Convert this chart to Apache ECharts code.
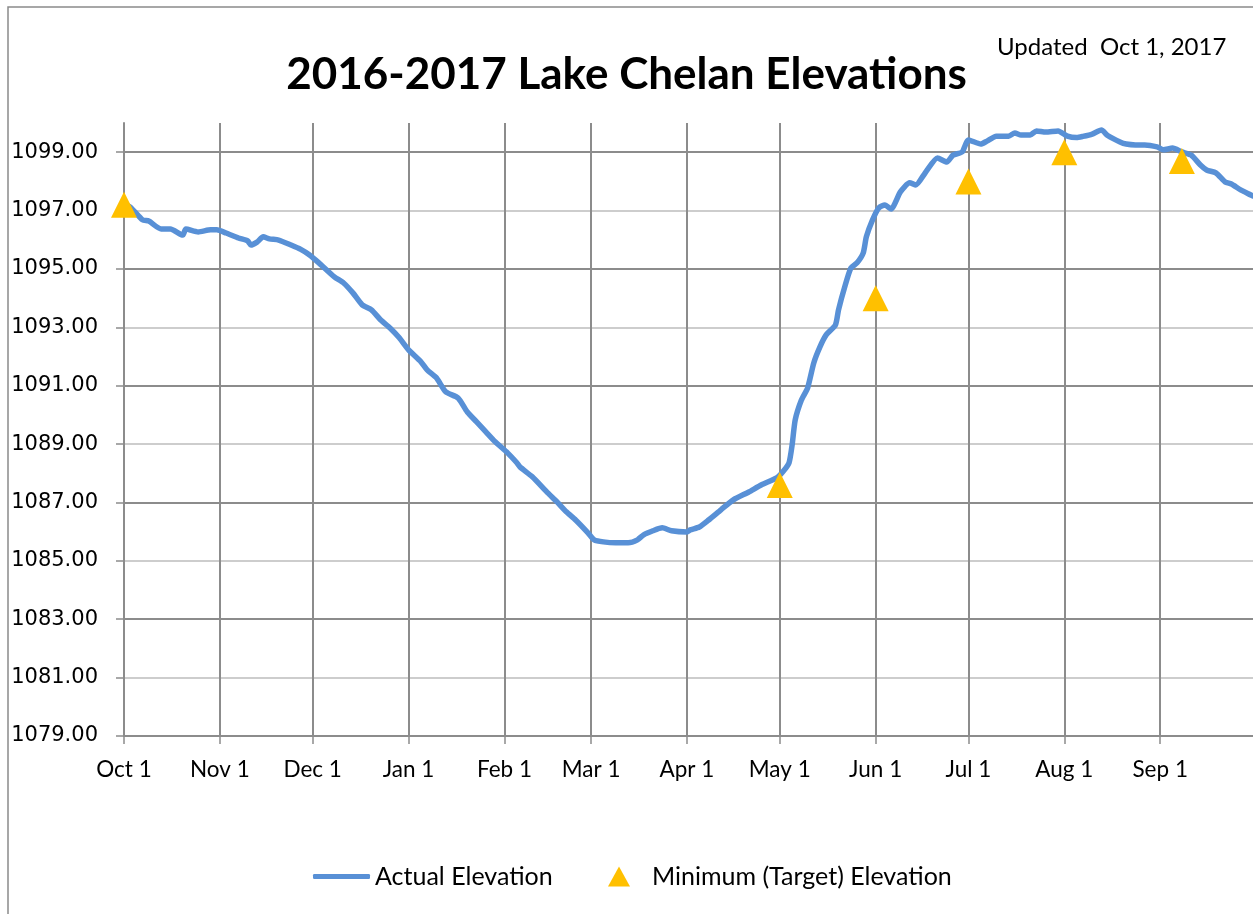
<!DOCTYPE html>
<html>
<head>
<meta charset="utf-8">
<script src="https://cdn.jsdelivr.net/npm/echarts@6/dist/echarts.min.js"></script>
<style>html,body{margin:0;padding:0;background:#fff}#chart{width:1253px;height:914px}</style>
</head>
<body>
<div id="chart"></div>
<script>
// Day offsets from Oct 1, 2016 and read-off lake elevations (ft)
const days = [0,2,6,8,12,15,19,20,24,28,30,33,37,40,41,43,45,47,50,54,57,60,63,68,71,74,77,80,83,86,89,92,96,98,101,104,108,111,114,117,120,124,127,128,132,137,140,143,146,150,152,155,159,163,166,168,171,174,177,182,183,186,189,193,197,202,206,211,213,215,216,217,219,221,223,225,227,230,231,233,235,237,239,240,242,244,246,248,251,254,256,259,263,266,268,271,273,277,279,282,286,288,290,293,295,298,302,305,308,310,313,316,318,322,324,327,330,334,336,339,342,345,348,350,353,356,358,361,365];
const elev = [1097.20,1097.12,1096.68,1096.64,1096.37,1096.37,1096.16,1096.37,1096.27,1096.34,1096.34,1096.23,1096.06,1095.96,1095.82,1095.92,1096.10,1096.03,1095.99,1095.82,1095.68,1095.48,1095.21,1094.73,1094.52,1094.18,1093.77,1093.60,1093.25,1092.98,1092.64,1092.23,1091.82,1091.54,1091.27,1090.79,1090.58,1090.10,1089.76,1089.42,1089.08,1088.70,1088.36,1088.22,1087.88,1087.33,1087.02,1086.68,1086.40,1085.96,1085.72,1085.65,1085.62,1085.62,1085.72,1085.89,1086.03,1086.13,1086.03,1085.99,1086.06,1086.16,1086.40,1086.75,1087.09,1087.36,1087.60,1087.84,1088.05,1088.36,1088.97,1089.83,1090.51,1090.92,1091.78,1092.33,1092.74,1093.08,1093.60,1094.38,1095.03,1095.21,1095.55,1096.10,1096.68,1097.09,1097.19,1097.05,1097.64,1097.95,1097.88,1098.29,1098.80,1098.66,1098.90,1099.01,1099.42,1099.28,1099.38,1099.55,1099.55,1099.66,1099.59,1099.59,1099.73,1099.69,1099.73,1099.55,1099.50,1099.54,1099.62,1099.76,1099.57,1099.35,1099.28,1099.25,1099.25,1099.18,1099.08,1099.14,1099.01,1098.90,1098.56,1098.39,1098.29,1097.98,1097.91,1097.71,1097.50];
// Minimum (target) elevations
const targetDays = [0,212,243,273,304,342];
const targetVals = [1097.2,1087.6,1094.0,1098.0,1099.0,1098.7];
// Axis labels
const monthStarts = [0,31,61,92,123,151,182,212,243,273,304,335];
const monthLabels = ['Oct 1','Nov 1','Dec 1','Jan 1','Feb 1','Mar 1','Apr 1','May 1','Jun 1','Jul 1','Aug 1','Sep 1'];
const yLabelValues = [1079,1081,1083,1085,1087,1089,1091,1093,1095,1097,1099];

const start = new Date(2016, 9, 1);
const categories = [];
for (let i = 0; i <= 365; i++) {
  const d = new Date(start.getTime());
  d.setDate(start.getDate() + i);
  categories.push(d.toISOString().slice(0, 10));
}
const isMonth = (idx) => monthStarts.indexOf(idx) >= 0;

const chart = echarts.init(document.getElementById('chart'));
const dark = '#8c8c8c', light = '#cdcdcd';
const blue = '#5890D6';
chart.setOption({
  animation: false,
  title: {
    text: '2016-2017 Lake Chelan Elevations',
    left: 'center',
    top: 48,
    textStyle: { fontFamily: 'Lato', fontWeight: 'bold', fontSize: 44, color: '#000' }
  },
  graphic: [
    { type: 'rect', shape: { x: 8, y: 7, width: 1400, height: 1000 }, style: { fill: 'none', stroke: '#8a8a8a', lineWidth: 1.5 }, z: -1 },
    { type: 'text', left: 997, top: 35, style: { text: 'Updated  Oct 1, 2017', font: '24px Lato', fill: '#000' } }
  ],
  legend: [
    {
      data: [{ name: 'Actual Elevation', icon: 'roundRect', itemStyle: { color: blue } }],
      left: 313, top: 864, padding: 0, itemWidth: 57, itemHeight: 5, itemGap: 0,
      textStyle: { fontFamily: 'Lato', fontSize: 25, color: '#000' }
    },
    {
      data: [{ name: 'Minimum (Target) Elevation', icon: 'triangle', itemStyle: { color: '#FFC000' } }],
      left: 608, top: 864, padding: 0, itemWidth: 22, itemHeight: 20,
      textStyle: { fontFamily: 'Lato', fontSize: 25, color: '#000', padding: [0, 0, 0, 17] }
    }
  ],
  grid: { left: 124, right: 0, top: 123, bottom: 178, containLabel: false },
  xAxis: {
    type: 'category',
    data: categories,
    boundaryGap: false,
    axisLine: { lineStyle: { color: dark, width: 2 } },
    axisTick: { show: true, interval: (i) => isMonth(i), length: 8, lineStyle: { color: dark, width: 1.5 } },
    axisLabel: {
      interval: (i) => isMonth(i),
      formatter: (v, i) => monthLabels[monthStarts.indexOf(i)] || '',
      fontFamily: 'Lato', fontSize: 22.5, color: '#000', margin: 22
    },
    splitLine: { show: true, interval: (i) => isMonth(i) && i > 0, lineStyle: { color: dark, width: 2 } }
  },
  yAxis: {
    type: 'value',
    min: 1079, max: 1100, interval: 1,
    axisLine: { show: true, lineStyle: { color: dark, width: 2 } },
    axisTick: { show: true, customValues: yLabelValues, length: 8, lineStyle: { color: dark, width: 1.5 } },
    axisLabel: {
      customValues: yLabelValues,
      formatter: (v) => v.toFixed(2),
      fontFamily: 'DejaVu Sans', fontSize: 21, color: '#000', margin: 26
    },
    splitLine: { show: true, lineStyle: { color: [dark, light], width: 2 } }
  },
  series: [
    {
      name: 'Actual Elevation',
      type: 'line',
      data: days.map((d, i) => [d, elev[i]]),
      symbol: 'none',
      smooth: 0.2,
      lineStyle: { color: blue, width: 5.5, cap: 'round', join: 'round' },
      itemStyle: { color: blue },
      z: 3
    },
    {
      name: 'Minimum (Target) Elevation',
      type: 'scatter',
      data: targetDays.map((d, i) => [d, targetVals[i]]),
      symbol: 'triangle',
      symbolSize: [26, 26],
      itemStyle: { color: '#FFC000', opacity: 1 },
      z: 4
    }
  ]
});
</script>
</body>
</html>
